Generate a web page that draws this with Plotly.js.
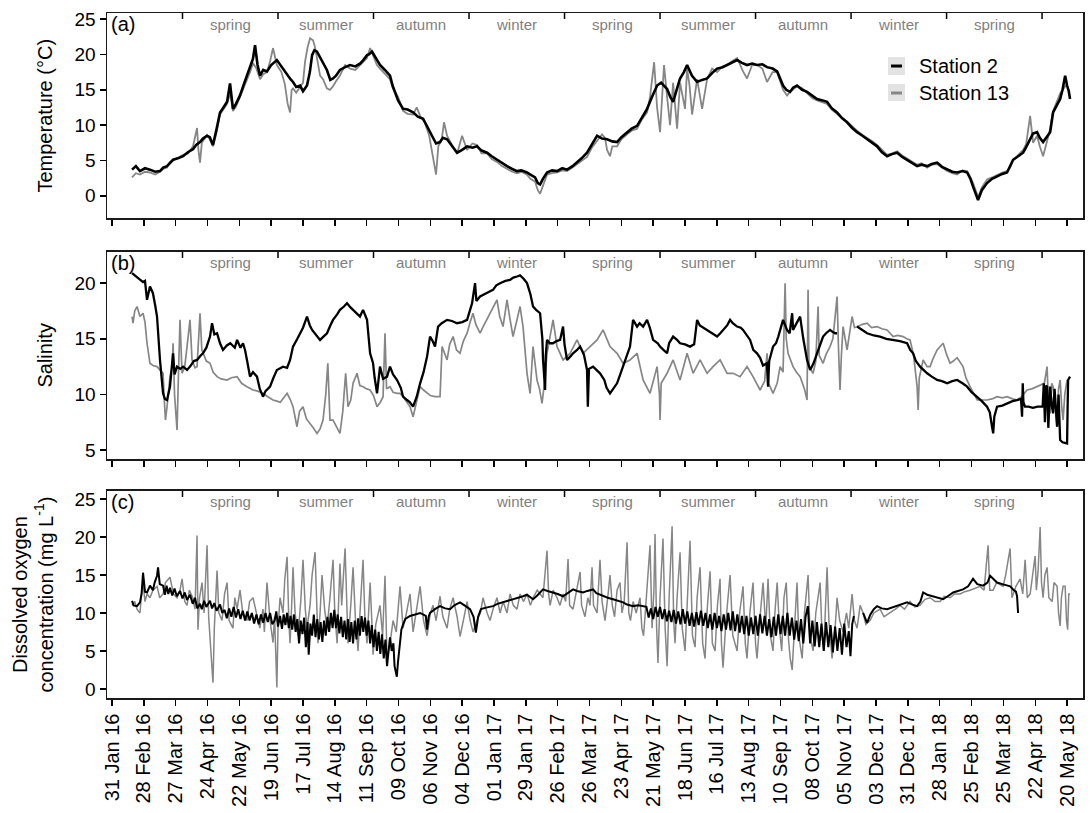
<!DOCTYPE html>
<html><head><meta charset="utf-8">
<script src="https://cdn.plot.ly/plotly-3.0.1.min.js"></script>
<style>html,body{margin:0;padding:0;background:#fff}#chart{width:1090px;height:813px}</style>
</head><body><div id="chart"></div>
<script>
// ---- data (x = days after 31 Jan 2016, y = value) ----
const START_DATE = '2016-01-31';
const tickStepDays = 28;
const seasonBounds = ['2016-04-02','2016-06-25','2016-09-17','2016-12-10','2017-03-04','2017-05-27','2017-08-19','2017-11-11','2018-02-03','2018-04-28'];
const seasonNames = ['spring','summer','autumn','winter','spring','summer','autumn','winter','spring'];
const stationNames = ['Station 2','Station 13'];
const panelLetters = ['(a)','(b)','(c)'];

const temp2 = [[17.6,3.7],[21,4.2],[24.6,3.5],[29,3.9],[33.4,3.7],[38,3.4],[42.2,3.5],[45,4.0],[48.4,4.2],[51,4.6],[53.7,5.1],[58,5.3],[62.5,5.6],[67,6.2],[71.2,6.6],[74,7.2],[77.4,7.6],[80,8.1],[83.6,8.5],[86,8.3],[88.8,7.2],[92,9.5],[95,11.8],[98,12.5],[101.2,13.3],[103.8,15.9],[106.4,12.3],[109,13.0],[112.6,14.2],[116,15.8],[118.7,17.0],[121.4,18.0],[124,19.4],[125.8,21.3],[128,18.5],[130.2,17.0],[133,17.8],[136.3,17.6],[140,18.5],[145,19.2],[149,18.3],[154,17.0],[157,16.5],[159.2,16.1],[162,15.4],[165.4,15.6],[168,14.8],[171.5,15.6],[174,17.5],[176,19.9],[178,20.6],[180.3,20.4],[183,19.6],[185.6,19.0],[189,17.8],[192,16.4],[194.4,16.6],[197,17.0],[200.5,17.8],[205,18.2],[209.4,18.5],[214,18.3],[218.1,18.7],[221,19.2],[224.3,19.9],[226,20.0],[228.7,20.4],[232,19.5],[235.7,18.5],[240,17.8],[244.5,17.0],[247,15.5],[251.6,13.5],[256,12.3],[260,12.2],[264.8,11.8],[269,11.2],[273.6,10.9],[278,9.5],[282.4,8.0],[285,7.4],[288.5,7.6],[291,8.2],[294.7,8.0],[299,7.0],[303.5,6.1],[308,6.5],[312.3,7.0],[317,6.8],[321,7.0],[325,6.4],[329.9,6.1],[334,5.6],[338.6,5.1],[343,4.6],[347.4,4.2],[352,3.8],[356.2,3.5],[360,3.6],[365,3.3],[368,3.0],[372.1,2.6],[374.5,1.8],[376.5,1.6],[379,2.4],[382.6,3.3],[387,3.6],[391.4,3.5],[396,3.9],[400.2,3.7],[405,4.2],[409,4.7],[413,5.3],[417.8,6.1],[422,7.2],[426.6,8.5],[431,8.1],[435.4,8.0],[440,7.7],[444.2,7.6],[448,8.3],[453,9.0],[457,9.5],[461.8,9.9],[466,11.0],[470.6,12.3],[475,14.0],[479.4,15.6],[483,16.0],[488.2,15.1],[491,14.0],[493.5,13.3],[497,15.2],[499.6,16.6],[503,17.5],[505.8,18.5],[510,17.0],[514.6,16.1],[519,16.4],[523.4,16.6],[528,17.4],[532.2,18.0],[537,18.2],[541,18.5],[545,18.8],[549.8,19.2],[554,18.8],[558.5,18.5],[563,18.7],[567.3,18.5],[572,18.6],[576.1,18.2],[581,18.0],[585,17.6],[590.2,15.6],[593,15.0],[596.4,14.7],[599,15.3],[602.5,15.6],[607,15.0],[611.3,14.7],[616,14.2],[620.1,13.7],[625,13.5],[628.9,13.3],[633,12.4],[637.7,11.8],[642,11.0],[646.5,10.4],[651,9.6],[655.3,9.0],[660,8.5],[664.1,8.0],[668,7.6],[672.9,7.0],[677,6.2],[681.7,5.6],[686,5.9],[690.5,6.1],[695,5.5],[699.3,5.1],[704,4.6],[708.1,4.2],[712,4.4],[716.9,4.2],[721,4.5],[725.7,4.7],[730,4.1],[734.5,3.7],[739,3.4],[743.3,3.3],[748,3.5],[752.1,3.3],[755,2.4],[757.3,1.3],[760,0.2],[761.7,-0.6],[765,0.8],[769.6,1.8],[774,2.4],[778.4,2.8],[783,3.1],[787.2,3.3],[790,4.2],[792.5,5.1],[797,5.6],[801.3,6.1],[804,6.9],[807.5,8.0],[810,8.8],[813.6,9.0],[816,8.2],[818.9,7.6],[822,8.4],[825.1,9.0],[827.7,11.8],[831,12.8],[833.9,13.7],[836,15.0],[838.3,17.0],[840,15.6],[841.5,14.8],[842.6,13.7]];

const temp13 = [[17.6,2.6],[21,3.2],[24.6,3.0],[29,3.4],[33.4,3.3],[38,3.0],[42.2,3.4],[45,3.8],[48.4,4.0],[51,4.8],[53.7,5.0],[58,5.4],[62.5,5.8],[67,6.0],[71.2,7.0],[74.8,9.6],[76,6.5],[77.4,4.7],[79,7.5],[83.6,8.6],[86,8.0],[88.8,7.0],[92,9.0],[95,11.5],[98,12.2],[101.2,13.0],[104,14.5],[106.4,12.0],[109,12.6],[112.6,14.0],[116,15.5],[118.7,16.5],[121.4,17.5],[124,18.8],[127,18.0],[130.2,16.5],[133,17.2],[136.3,17.5],[139,19.0],[141.6,20.9],[145,18.5],[149,17.5],[152,15.8],[154.5,13.0],[156.6,11.8],[158,15.0],[159.2,15.2],[162,14.6],[165.4,15.5],[168,16.0],[169.8,19.0],[172,21.0],[174.2,22.3],[176.8,22.0],[178.6,21.0],[180.3,19.5],[183,17.0],[185.6,16.5],[189,15.2],[191.7,15.0],[194.4,15.5],[197,16.2],[200.5,17.0],[205,18.5],[209.4,18.0],[214,17.8],[218.1,18.5],[221,18.9],[224.3,19.5],[227,20.9],[229.6,19.8],[233,18.5],[235.7,18.0],[240,17.2],[244.5,16.5],[247,15.2],[251.6,14.0],[256,12.0],[260,11.6],[264.8,11.5],[268,12.5],[271,11.3],[275,10.4],[279,8.5],[282.4,5.5],[285,3.0],[287,7.0],[290,8.0],[292,10.4],[294.7,8.5],[299,7.2],[303.5,6.0],[307.9,8.5],[312.3,6.5],[317,7.4],[321,7.2],[325,6.0],[329.9,6.0],[334,5.2],[338.6,4.8],[343,4.2],[347.4,3.8],[352,3.4],[356.2,3.2],[360,3.4],[365,3.0],[368,2.4],[372.1,2.0],[374.5,0.8],[376.5,0.3],[379,1.5],[382.6,3.0],[387,3.2],[391.4,3.3],[396,3.6],[400.2,3.5],[405,4.0],[409,4.5],[413,5.0],[417.8,5.5],[422,6.8],[426.6,7.8],[431,8.7],[433.6,8.2],[435.4,6.5],[438,5.6],[440,7.0],[444.2,7.0],[448,8.0],[453,8.7],[457,9.2],[461.8,9.5],[466,10.8],[470.6,11.8],[473.2,14.0],[476.8,18.9],[479.4,12.5],[482,9.0],[485.5,18.5],[488.2,14.0],[490.8,10.0],[493.5,16.0],[497,9.5],[499.6,16.0],[502,14.0],[504,12.3],[505.8,18.0],[508,15.5],[510.2,11.5],[514.6,16.5],[519,12.3],[523.4,16.5],[527.8,18.0],[532.2,17.5],[537,18.3],[541,18.5],[545,19.0],[549.8,19.5],[555,17.6],[558.5,16.6],[563,18.5],[567.3,18.5],[572,18.0],[576.1,16.1],[581,17.5],[585,17.5],[590.2,15.0],[593.7,14.2],[597,14.8],[602.5,15.5],[607,15.2],[611.3,14.5],[616,13.8],[620.1,13.5],[625,13.2],[628.9,13.0],[633,12.2],[637.7,11.5],[642,11.0],[646.5,10.5],[651,9.8],[655.3,9.2],[660,8.6],[664.1,8.2],[668,7.8],[672.9,7.2],[677,6.5],[681.7,5.8],[686,6.0],[690.5,6.3],[695,5.7],[699.3,5.3],[704,4.8],[708.1,4.4],[712,4.6],[716.9,4.0],[721,4.4],[725.7,4.5],[730,4.0],[734.5,3.5],[739,3.2],[743.3,3.0],[748,3.6],[752.1,3.5],[755,2.6],[757.3,1.8],[760,0.6],[761.7,-0.2],[765,1.2],[769.6,2.3],[774,2.6],[778.4,3.0],[783,3.3],[787.2,3.5],[790,4.0],[792.5,5.0],[797,5.8],[801.3,6.5],[804,7.3],[807.5,11.3],[810.1,7.5],[813.6,8.5],[816,7.0],[818.9,5.6],[822,7.5],[825.1,9.5],[827.7,12.0],[831,13.2],[833.9,14.5],[837,15.2],[840,15.8]];

const sal2 = [[17.6,20.9],[22,20.5],[24.6,20.3],[27.3,20.1],[29,20.2],[30.8,18.5],[33.4,19.7],[36,19.1],[38,18.0],[39.6,17.0],[42.2,13.1],[44.9,10.1],[46.5,9.6],[48.4,9.5],[51,10.7],[53.7,13.7],[55,11.8],[57.2,12.5],[60,12.3],[62.5,12.5],[66,12.2],[68.6,12.5],[72,13.0],[74.8,13.1],[78,13.5],[80,13.7],[83,14.2],[86.2,15.2],[88,16.4],[90,15.4],[92.4,15.5],[95,14.6],[97.6,14.0],[101,14.4],[104,14.6],[108,14.2],[110,14.9],[113,14.2],[115.2,14.6],[117,14.0],[118.7,13.1],[121.4,11.6],[124,12.0],[127.5,11.6],[130,10.5],[132.8,9.8],[135,10.3],[139,10.7],[142,11.5],[145,12.2],[150.4,12.5],[154,12.4],[156.6,13.1],[159.2,14.3],[163,15.0],[165.4,15.5],[168,16.0],[171.5,17.0],[174,16.2],[176,15.8],[180,15.3],[183,14.9],[186,15.2],[189.1,15.5],[192,16.2],[194.4,16.7],[198,17.2],[200.5,17.6],[204,17.9],[206.7,18.2],[210,17.8],[212,17.6],[215.5,17.3],[218.1,17.0],[220.8,17.6],[224.3,16.7],[227,13.7],[229.6,12.8],[231,11.5],[233.1,10.1],[235.7,12.5],[238.4,11.4],[241.9,11.6],[244.5,12.5],[247.2,11.8],[250.7,11.3],[254,10.6],[256,9.8],[259.5,9.5],[262,9.3],[264.8,8.9],[268,9.8],[271,11.0],[274,12.0],[277.1,13.4],[279.7,15.2],[282,14.8],[284.1,14.3],[286.8,16.1],[290,16.4],[294.7,16.7],[299,16.6],[303.5,16.4],[308,16.5],[312.3,16.7],[316.7,18.2],[319.3,20.0],[320.5,18.4],[323.7,18.8],[327,19.0],[329.9,19.1],[333,19.3],[335.1,19.4],[338,19.8],[341.3,20.0],[346,20.2],[350.1,20.3],[353,20.5],[356.2,20.6],[358.9,20.7],[362,20.4],[365,20.0],[368,19.0],[370.3,17.9],[373,17.6],[376.5,17.3],[378.5,15.0],[379.1,13.1],[380.9,10.4],[381.5,13.5],[382.6,14.9],[385,14.6],[387.9,14.6],[391,14.8],[394.1,14.9],[396.7,16.1],[398,14.5],[400.2,13.1],[403,13.4],[405.5,13.7],[409,14.0],[411.7,14.3],[415,13.6],[417.8,12.2],[418.5,8.9],[419.5,12.3],[423.1,12.5],[426,12.2],[429.2,11.9],[433,11.3],[435,10.6],[438,10.1],[441,10.5],[444.2,11.0],[447,11.8],[449.5,12.5],[453,13.5],[455.6,14.3],[457.5,16.0],[458.3,16.7],[461.8,16.1],[464,16.4],[467.1,16.1],[470.6,16.7],[473,16.0],[475.9,14.9],[480,14.6],[482,14.3],[485,14.0],[488.2,13.7],[490,14.6],[493.5,15.2],[497,14.9],[499.6,14.6],[504,14.5],[508.4,14.3],[512,14.5],[514.6,16.7],[517,16.2],[520,16.0],[523.4,15.8],[528,15.5],[532.2,15.2],[535,15.5],[537.4,15.8],[541,16.2],[543.6,16.7],[546,16.4],[549.8,16.1],[553,16.0],[555,15.8],[558,15.4],[561.2,14.9],[564,14.0],[567.3,13.7],[570,13.3],[572.6,12.6],[576,12.8],[577,10.7],[578,13.0],[581.4,14.3],[584,14.6],[586,15.2],[590.2,16.7],[593.7,15.8],[596,15.5],[598.2,17.3],[599,15.8],[602.5,16.5],[605.2,17.0],[608,15.0],[611.3,13.1],[614,12.2],[617,12.8],[620.1,13.7],[623,14.5],[625.4,15.2],[628,15.5],[631.5,15.8],[634,15.6],[636,15.5],[637.7,15.5],[646,null],[655.3,16.1],[660,15.8],[664.1,15.5],[670,15.3],[675.5,15.2],[681,15.0],[687,14.9],[693,14.8],[699.3,14.6],[702,14.0],[704.6,13.7],[707,13.0],[710.7,12.5],[713.4,12.2],[716.9,11.9],[721,11.6],[725.7,11.3],[730,11.2],[734.5,11.0],[739,11.2],[743.3,11.3],[748,11.0],[752.1,10.7],[756,10.2],[760.9,9.8],[765,9.4],[769.6,8.9],[772,8.4],[774,7.1],[775,6.5],[776,8.0],[778.4,8.9],[783,9.0],[787.2,9.2],[792,9.4],[796,9.5],[799.5,9.6],[800.4,8.0],[801,11.0],[801.6,9.3],[803,8.9],[806,8.9],[810,8.8],[814,8.9],[818.5,8.9],[819.5,11.0],[820.5,7.5],[821.5,10.8],[822.4,10.7],[823.5,7.0],[824.5,10.5],[825.1,10.7],[826.5,9.0],[827.7,8.3],[829,10.5],[831.2,7.1],[832.5,10.0],[833.9,5.9],[836,5.7],[840,5.6],[840.5,9.0],[840.9,11.3],[842.6,11.6]];

const sal13 = [[17.6,17.0],[18.5,16.4],[20,17.5],[22,17.9],[24.6,17.0],[27.3,17.3],[29,16.5],[30.8,14.6],[33.4,12.8],[36,12.6],[39.6,12.5],[42.2,12.2],[44.9,11.9],[46,9.5],[47,7.7],[48.4,8.9],[51,11.6],[53,12.5],[53.7,14.6],[55,10.0],[57.2,6.8],[58.5,12.0],[59.8,16.7],[61.6,11.9],[64,12.5],[66,14.3],[68.6,16.7],[70.4,13.1],[73,12.4],[74.8,12.5],[77.4,17.3],[79,14.0],[80,13.7],[83,13.0],[86.2,12.8],[89,12.0],[92.4,11.6],[96,11.4],[101.2,11.3],[105,11.5],[110,11.6],[114,11.0],[118.7,10.7],[124,10.4],[128,10.3],[132.8,10.1],[137,9.8],[141.6,9.5],[145,9.4],[148,9.3],[154,10.1],[157,9.5],[159.2,8.9],[162.7,7.1],[165,8.5],[168,8.9],[171,7.8],[174.2,7.4],[177,7.0],[180.3,6.5],[183,6.9],[185.6,7.7],[188,10.0],[189.8,12.8],[191.7,7.7],[194.4,7.7],[197,7.2],[200.5,6.5],[203,8.5],[205.5,11.9],[207.6,8.9],[210,9.5],[212,11.0],[215.5,11.9],[218,10.8],[220.8,10.7],[224,10.5],[227,10.4],[230,9.9],[233.1,8.9],[236,9.3],[238.4,9.8],[240.1,15.5],[241.5,10.5],[244.5,10.7],[247.2,10.2],[250.7,10.1],[253.3,10.1],[256,9.8],[259,9.3],[262.1,8.9],[264.8,8.0],[268,9.5],[271,10.7],[274,10.4],[277.1,10.1],[280,9.9],[284,9.8],[288.5,9.8],[290.3,14.3],[294.7,13.1],[297,14.5],[300,15.2],[303,14.0],[306.1,13.7],[309,14.8],[312.3,15.5],[315,16.5],[317.5,17.3],[320,16.3],[323.7,15.5],[327,16.2],[332.5,17.3],[335,17.8],[338.6,18.5],[341,17.0],[343.9,16.1],[346,17.5],[347.4,18.5],[350,16.8],[352.7,15.2],[355,16.2],[358.9,17.9],[361.5,16.1],[365,11.9],[367.7,10.1],[370.3,14.3],[373.8,11.3],[376,10.5],[378.2,9.2],[380.9,11.5],[382.6,13.7],[385,15.0],[387.9,16.7],[391.4,14.3],[396.7,13.1],[402.9,13.7],[409,14.9],[414.3,13.7],[420.4,14.3],[426.6,14.9],[431.9,15.8],[438,14.3],[444.2,13.7],[449.5,12.8],[455.6,13.1],[461.8,13.7],[467.1,11.3],[473.2,10.1],[479.4,12.5],[481.5,10.0],[482,7.7],[483,11.0],[488.2,11.9],[493.5,13.1],[499.6,11.3],[505.8,13.7],[511.1,11.9],[517.2,13.1],[523.4,11.9],[528.6,12.5],[534.8,13.1],[541,11.9],[546.2,11.9],[552.4,11.6],[558.5,12.5],[563.8,11.6],[570,10.4],[574,11.2],[576.1,13.7],[577.5,11.0],[581.4,10.1],[585,11.0],[587.6,12.5],[590.2,12.0],[592,20.0],[593,15.0],[594.6,13.7],[599,12.5],[602,12.0],[605.2,11.6],[609,10.5],[611.3,9.5],[612.2,19.4],[613,12.5],[616.6,11.9],[619,13.0],[621,17.9],[622,13.5],[625.4,12.8],[628,13.6],[631.5,14.3],[634,15.0],[636,17.0],[637.7,18.8],[639,14.0],[640.3,10.4],[641.5,13.5],[643,16.1],[646.5,14.0],[649,15.5],[650.9,17.0],[653,16.0],[655.3,16.1],[660,16.3],[664.1,16.4],[668,16.0],[672.9,16.1],[677,15.9],[681.7,15.8],[687,15.2],[691,15.3],[695.8,15.2],[699,15.0],[701.9,14.9],[705,13.5],[707,11.5],[708.1,10.7],[709,8.6],[710,11.5],[713.4,13.1],[716.9,12.5],[719.5,12.5],[722,13.2],[725.7,14.0],[731,14.6],[734,13.6],[737.1,12.8],[740,13.0],[743.3,13.3],[748.5,12.5],[751,11.5],[754.7,10.7],[758,10.0],[760.9,9.5],[765,9.5],[769.6,9.5],[774,9.6],[778.4,9.8],[783,9.7],[787.2,9.8],[792,9.6],[796,9.5],[800,9.8],[804.8,10.4],[809,10.5],[813.6,10.7],[818,10.9],[820,11.0],[822.4,12.5],[823.5,9.5],[825.1,8.3],[826.5,11.0],[827.7,10.7],[829.5,9.0],[831.2,7.1],[832.5,10.5],[833.9,11.3],[835.2,9.0],[836.5,7.7],[838,10.0],[840,11.3]];

const do2 = [[17.6,11.6],[19,11.0],[22,10.9],[24.6,11.4],[26,12.5],[27.3,15.3],[29,12.8],[30.8,12.7],[33.4,13.6],[36,13.0],[37.5,14.0],[39.6,14.9],[40.5,16.0],[42,13.8],[44.9,13.6],[46.5,12.4],[48,13.6],[49.5,12.5],[51,13.3],[53,12.3],[55,13.2],[57,12.2],[59.8,12.9],[62,11.9],[64,12.7],[66,11.7],[68.6,12.4],[71,11.2],[73,12.0],[75,10.6],[77.4,11.2],[79,10.5],[81,11.6],[83,10.8],[86.2,11.6],[88,10.6],[90,11.3],[92,10.3],[95,11.1],[97,10.0],[99,10.4],[101,9.3],[103,10.6],[105,9.5],[107,10.8],[109,9.4],[111,10.5],[113,9.2],[115,10.3],[117,9.0],[119,10.2],[121,9.0],[123,10.0],[125,8.6],[127,9.8],[129,8.5],[131,9.8],[133,8.7],[135,10.0],[137,8.8],[139,10.0],[141,8.5],[143,9.0],[144.5,10.2],[146,8.2],[147.8,9.6],[149.5,7.9],[151,9.8],[152.5,8.4],[154,10.0],[155.5,8.0],[157,9.6],[158.5,7.8],[160,9.8],[161.5,7.5],[163,9.2],[164.5,6.0],[166,9.0],[167.5,7.2],[169,9.4],[170.5,5.5],[172,8.8],[173,4.5],[174.5,8.6],[176,7.0],[177.5,9.8],[179,6.8],[180.5,9.2],[182,6.5],[183.5,8.8],[185,6.2],[186.5,9.0],[188,7.0],[189.5,9.5],[191,7.5],[192.5,10.0],[194,8.0],[195.5,10.4],[197,8.0],[198.5,9.8],[200,7.3],[201.5,9.5],[203,6.8],[204.5,9.0],[206,6.5],[207.5,9.2],[209,6.2],[210.5,8.8],[212,6.0],[213.5,9.0],[215,6.5],[216.5,9.3],[218,7.0],[219.5,9.6],[221,7.5],[222.5,9.4],[224,7.0],[225.5,9.0],[227,6.0],[228.5,8.4],[230,5.5],[231.5,7.8],[233,5.0],[234.5,7.5],[236,4.6],[237.5,7.2],[239,4.0],[240.5,6.5],[241.9,3.0],[243.5,5.5],[244.5,6.8],[246,5.0],[247.5,6.0],[248.5,3.0],[250.5,1.6],[251.5,3.5],[253,5.5],[254.5,7.8],[256,8.5],[258,9.2],[262.1,9.6],[266,9.8],[271,10.0],[276,9.6],[277.1,7.8],[278.5,9.5],[279.7,10.0],[284,10.5],[288.5,10.9],[293,10.6],[297.3,10.5],[301,11.0],[306.1,11.4],[310,11.0],[314.9,10.5],[318,9.5],[320,7.4],[322,9.5],[324.5,10.5],[329,10.7],[335.1,10.9],[339,11.2],[343.9,11.4],[348,11.6],[352.7,11.8],[357,12.0],[361.5,12.2],[365,12.4],[370.3,11.8],[374,12.3],[379.1,13.1],[383,12.9],[387.9,12.7],[392,12.5],[396.7,12.2],[401,12.6],[405.5,13.1],[409,12.9],[414.3,12.7],[418,12.9],[423.1,13.1],[426,12.6],[431.9,12.2],[436,12.0],[440.7,11.8],[445,11.6],[449.5,11.4],[453,11.1],[458.3,10.9],[463,11.0],[467.1,10.9],[470,10.8],[472,9.4],[474,10.6],[476,9.2],[478,10.8],[480,9.5],[482,10.8],[484,9.2],[486,10.5],[488,8.9],[490,10.3],[492,8.8],[494,10.4],[496,8.6],[498,10.2],[500,8.5],[502,10.5],[504,8.6],[506,10.2],[508,8.3],[510,10.0],[512,8.2],[514,10.1],[516,8.4],[518,10.3],[520,8.3],[522,10.0],[524,8.0],[526,9.8],[528,7.8],[530,10.0],[532,8.0],[534,9.6],[536,7.6],[538,9.8],[540,7.8],[542,10.0],[544,7.7],[546,10.2],[548,7.6],[550,9.8],[552,7.4],[554,9.6],[556,7.2],[558,9.6],[560,7.0],[562,9.4],[564,7.2],[566,9.6],[568,7.0],[570,9.8],[572,7.3],[574,9.6],[576,7.0],[578,9.2],[580,6.8],[582,9.5],[584,7.0],[586,9.8],[588,7.2],[590,9.6],[592,7.0],[594,10.0],[596,7.0],[598,9.4],[600,6.5],[602,9.0],[604,6.3],[606,9.2],[608,6.0],[610,9.5],[612,10.9],[614,6.0],[616,9.0],[618,5.6],[620,8.8],[622,5.5],[624,8.6],[626,5.0],[628,8.8],[630,5.5],[632,8.4],[634,4.8],[636,8.2],[638,5.0],[640,8.0],[642,4.5],[644,8.6],[646,5.5],[648,7.6],[649.5,4.3],[651,8.5],[652.5,9.6],[656,null],[660.6,10.0],[662,9.5],[664.1,8.7],[667,9.8],[670,10.5],[672.9,10.9],[677,10.6],[681.7,10.5],[686,10.7],[690.5,10.9],[695,11.2],[699.3,11.4],[704,11.1],[708.1,10.9],[711,11.5],[713.4,12.7],[717,12.4],[722.2,12.2],[727,12.0],[731,11.8],[735,12.2],[739.8,12.7],[744,12.9],[748.5,13.1],[753,13.5],[757.3,14.5],[761,13.8],[766.1,13.6],[770,14.0],[772.3,14.9],[775,14.5],[778.4,14.0],[783,13.8],[787.2,13.6],[790,13.5],[792.5,13.1],[795,12.8],[796,12.2],[796.9,10.0]];

const do13 = [[17.6,11.0],[20,11.5],[22,10.5],[24.6,10.0],[26,12.5],[27.3,14.0],[29,11.5],[30.8,12.5],[33.4,12.0],[36,13.0],[39.6,13.5],[42,12.0],[44.9,12.5],[47,14.0],[51,14.7],[54,12.5],[57.2,12.0],[59.8,13.0],[61.6,14.5],[64,11.5],[66,11.0],[68,13.0],[71,12.0],[73,10.5],[74.8,20.2],[75.6,7.8],[77,12.0],[79.2,14.0],[81,10.0],[83.6,18.9],[85,9.5],[86.5,6.0],[88,3.0],[88.8,0.8],[90,8.0],[92.4,15.6],[94,10.0],[96.8,9.0],[99,12.5],[101.2,14.0],[103,9.0],[106.4,8.0],[108,12.0],[110,10.5],[112.6,13.0],[115,10.0],[118.7,9.0],[121,11.5],[124,12.0],[127,10.0],[130,8.0],[132.8,10.5],[134,7.5],[136.3,14.0],[139,9.0],[141.6,6.1],[143,9.5],[145,0.2],[146,8.0],[147.8,12.0],[150.4,10.0],[152,14.5],[154,17.4],[155.5,9.0],[156.6,6.0],[158,11.0],[159.2,16.0],[161,10.0],[163.6,7.0],[166,11.5],[168,17.0],[170,10.5],[171.5,8.0],[174.2,11.0],[176,15.0],[178.6,18.0],[180,11.0],[181.2,6.0],[183,10.0],[184.7,15.0],[187,10.5],[189.1,8.0],[191.7,12.0],[194.4,17.0],[196,10.0],[198,6.0],[200.5,16.5],[202,11.0],[205,18.5],[206.5,10.0],[207.6,6.0],[210,11.0],[212,16.0],[214,9.5],[216.4,5.0],[218.1,10.0],[220.8,17.0],[222.5,9.0],[224.3,6.0],[226,11.0],[227,14.0],[228.5,9.0],[229.6,4.5],[232,8.5],[235.7,11.0],[238,7.0],[240.1,14.9],[241.9,4.0],[244.5,6.0],[247.2,9.0],[250,7.5],[253.3,13.5],[256,8.0],[259,10.0],[262.1,12.5],[264.8,7.5],[268,10.5],[271,13.5],[274,9.0],[277.1,7.0],[280,10.0],[282.4,11.0],[285,9.0],[288.5,12.2],[291,9.5],[294.7,8.0],[297,10.5],[300,12.0],[303.5,9.5],[306.1,6.9],[309,9.0],[312.3,11.5],[315,9.0],[317.5,7.5],[321,9.0],[324,10.0],[326.3,12.0],[329.9,10.0],[332.5,9.0],[335.1,10.5],[338.6,12.0],[341.3,10.0],[344,11.5],[347.4,10.0],[350.1,12.5],[353,11.0],[356.2,10.5],[358.9,12.5],[362,11.5],[365,12.5],[368,11.0],[370.3,12.0],[374,13.0],[376.5,12.5],[379,12.0],[382.6,18.2],[384,12.5],[385.3,11.0],[388,13.0],[391.4,12.0],[394,11.0],[396.7,12.5],[399,11.5],[401.1,17.1],[402.5,11.0],[405.5,10.5],[408,12.5],[411.7,15.4],[413,11.0],[416,9.5],[418.5,12.0],[420.4,11.0],[422.2,16.0],[423.5,11.0],[426.6,10.0],[429.2,17.0],[431,11.5],[433.6,9.0],[436,12.0],[438,15.0],[440,11.0],[442,9.5],[444.2,13.0],[446.8,14.0],[448.5,10.0],[450.5,11.5],[453,19.3],[454.5,10.0],[456,9.0],[458.3,11.5],[461,10.0],[464.4,12.0],[466,8.0],[467.5,7.0],[469,10.0],[471,14.0],[473.2,18.9],[475,8.0],[476.6,13.0],[477.6,20.4],[479,8.0],[480.2,3.4],[482,12.0],[484.6,19.8],[486.5,8.0],[488.2,3.0],[490,12.0],[492.6,21.4],[494,9.0],[495.2,6.0],[497,12.0],[499.6,18.0],[501.5,8.0],[504,5.0],[506,12.0],[508.4,19.5],[510.5,7.0],[512.8,5.5],[514.6,12.0],[517.2,16.0],[519.5,6.0],[521.6,4.0],[523.5,10.5],[526,15.5],[528,6.0],[530.4,5.0],[532.5,11.0],[534.8,14.5],[536,6.0],[537.4,2.8],[540,9.0],[543.6,15.0],[546,7.0],[549.8,5.0],[552,10.0],[555,13.5],[557,6.0],[558.5,4.0],[561,10.0],[563.8,14.0],[566,6.0],[567.3,4.0],[570,9.5],[572.6,14.0],[575,8.0],[577,14.5],[579,7.0],[581.4,5.0],[583,10.0],[585,14.0],[587,8.0],[589,5.0],[591,12.0],[593,14.0],[595,6.5],[596.5,4.0],[598.2,2.5],[600,8.0],[602.5,14.0],[604,7.0],[607,4.0],[609,10.0],[612.2,15.0],[614,7.0],[616.6,5.0],[619,10.0],[622.8,14.0],[624.5,7.0],[626,5.0],[628.9,16.0],[630.5,9.0],[633.3,4.0],[636,8.0],[637.7,12.0],[640,9.0],[643,7.5],[646,10.0],[648,8.0],[650.9,12.5],[653,9.0],[655.3,8.0],[658,11.0],[660.6,10.0],[663,8.5],[666.7,9.0],[670,10.0],[675.5,10.5],[679,9.5],[684.3,10.0],[689,10.5],[693.1,11.0],[697,10.5],[701.9,11.5],[706,10.8],[710.7,11.0],[715,11.8],[719.5,12.0],[724,11.5],[728.3,11.5],[732,12.2],[737.1,12.0],[741,12.5],[745.9,12.5],[750,12.8],[754.7,13.0],[759,13.2],[763.5,13.5],[767,13.0],[770.5,18.9],[772,13.0],[774.9,13.0],[778,14.0],[783.7,13.5],[786,15.0],[789.9,18.5],[791.5,12.0],[795,13.5],[798.7,14.5],[801,12.5],[803.1,17.0],[805,12.0],[807.5,12.5],[809,14.5],[811.9,17.5],[813,13.0],[814.5,15.5],[816.3,21.3],[817.5,14.0],[818.9,12.0],[820.5,15.0],[822.4,16.0],[824,12.0],[826.9,11.5],[828.5,14.0],[831.2,13.5],[832.5,10.0],[833.9,8.3],[835,12.0],[836.5,13.5],[838.3,13.5],[839.5,9.0],[840.5,7.8],[841.5,12.5],[842.6,12.5]];

// ---- helpers ----
const DAY = 86400000;
const t0 = Date.parse(START_DATE + 'T00:00:00Z');
function isoOf(ms){ return new Date(ms).toISOString().slice(0,19).replace('T',' '); }
function toXY(pairs){ return { x: pairs.map(p => isoOf(t0 + p[0]*DAY)), y: pairs.map(p => p[1]) }; }

const BLACK = '#000000', GREY = '#868686';
const FONT = 'Liberation Sans, Arial, Helvetica, sans-serif';

function tr(pairs, name, color, width, xa, ya){
  const d = toXY(pairs);
  return {type:'scatter', mode:'lines', x:d.x, y:d.y, name:name, showlegend:false,
    line:{color:color, width:width}, xaxis:xa, yaxis:ya, hoverinfo:'x+y+name'};
}
const traces = [
  tr(temp13, stationNames[1], GREY, 1.8, 'x', 'y'),
  tr(temp2,  stationNames[0], BLACK, 2.6, 'x', 'y'),
  tr(sal13,  stationNames[1], GREY, 1.7, 'x2', 'y2'),
  tr(sal2,   stationNames[0], BLACK, 2.3, 'x2', 'y2'),
  tr(do13,   stationNames[1], GREY, 1.5, 'x3', 'y3'),
  tr(do2,    stationNames[0], BLACK, 2.0, 'x3', 'y3')
];

const xRange = [isoOf(t0 - 4.4*DAY), isoOf(t0 + 854*DAY)];
function xax(anchor, labels){
  return {anchor:anchor, domain:[0,1], type:'date', range:xRange, autorange:false,
    tick0:START_DATE, dtick:tickStepDays*DAY, tickformat:'%d %b %y', tickangle:-90,
    ticks:'outside', ticklen:6, tickwidth:1.5, tickcolor:'#000',
    showticklabels:labels, tickfont:{family:FONT, size:20, color:'#000'},
    showline:true, linecolor:'#1a1a1a', linewidth:1.5, mirror:true,
    showgrid:false, zeroline:false};
}
function yax(anchor, domain, range, vals){
  return {anchor:anchor, domain:domain, range:range, autorange:false, tickvals:vals,
    ticks:'outside', ticklen:6, tickwidth:1.5, tickcolor:'#000',
    tickfont:{family:FONT, size:19, color:'#000'},
    showline:true, linecolor:'#1a1a1a', linewidth:1.5, mirror:true,
    showgrid:false, zeroline:false};
}

const panels = [['x','y'],['x2','y2'],['x3','y3']];
const shapes = [];
const annotations = [];
panels.forEach((p, i) => {
  seasonBounds.forEach(b => shapes.push({type:'line', xref:p[0], yref:p[1]+' domain',
    x0:b, x1:b, ysizemode:'pixel', yanchor:1, y0:0, y1:-6, line:{color:'#000', width:1.5}}));
  for (let k = 0; k < seasonNames.length; k++){
    const mid = (Date.parse(seasonBounds[k]+'T00:00:00Z') + Date.parse(seasonBounds[k+1]+'T00:00:00Z'))/2;
    annotations.push({xref:p[0], yref:p[1]+' domain', x:isoOf(mid), y:1, yshift:-11,
      xanchor:'center', yanchor:'middle', showarrow:false, text:seasonNames[k],
      font:{family:FONT, size:15, color:'#7f7f7f'}});
  }
  annotations.push({xref:p[0]+' domain', yref:p[1]+' domain', x:0, y:1, xshift:2, yshift:-11,
    xanchor:'left', yanchor:'middle', showarrow:false, text:panelLetters[i],
    font:{family:FONT, size:20, color:'#000'}});
});

// y-axis titles
const yTitles = ['Temperature (°C)', 'Salinity', 'Dissolved oxygen<br>concentration (mg L<sup>-1</sup>)'];
const yTitleX = [-0.0645, -0.0645, -0.0758];
panels.forEach((p, i) => annotations.push({xref:'paper', yref:p[1]+' domain', x:yTitleX[i], y:0.5,
  xanchor:'center', yanchor:'middle', textangle:-90, showarrow:false, text:yTitles[i],
  font:{family:FONT, size:20, color:'#000'}}));

// legend (panel a)
const legendRows = [{name:stationNames[0], color:BLACK, y0:0.9095, y1:0.9358, ym:0.9226},
                    {name:stationNames[1], color:GREY,  y0:0.8715, y1:0.8964, ym:0.8832}];
legendRows.forEach(r => {
  shapes.push({type:'rect', xref:'paper', yref:'paper', x0:0.8002, x1:0.8176, y0:r.y0, y1:r.y1,
    fillcolor:'#e3e3e3', line:{width:0}});
  shapes.push({type:'line', xref:'paper', yref:'paper', x0:0.8033, x1:0.8145, y0:r.ym, y1:r.ym,
    line:{color:r.color, width:3}});
  annotations.push({xref:'paper', yref:'paper', x:0.8299, y:r.ym, xanchor:'left', yanchor:'middle',
    showarrow:false, text:r.name, font:{family:FONT, size:20, color:'#000'}});
});

const layout = {
  width:1090, height:813, paper_bgcolor:'#fff', plot_bgcolor:'#fff',
  margin:{l:107, r:7, t:13, b:115, pad:0},
  showlegend:false, font:{family:FONT, color:'#000'},
  xaxis: xax('y', false),
  xaxis2: Object.assign(xax('y2', false), {matches:'x'}),
  xaxis3: Object.assign(xax('y3', true), {matches:'x'}),
  yaxis: yax('x', [0.7007, 1], [-3.14, 25.86], [0,5,10,15,20,25]),
  yaxis2: yax('x2', [0.3489, 0.6511], [4.2, 22.8], [5,10,15,20]),
  yaxis3: yax('x3', [0, 0.3022], [-1.2, 26.06], [0,5,10,15,20,25]),
  shapes:shapes, annotations:annotations
};
Plotly.newPlot('chart', traces, layout, {displayModeBar:false, staticPlot:true});
</script>
</body></html>
